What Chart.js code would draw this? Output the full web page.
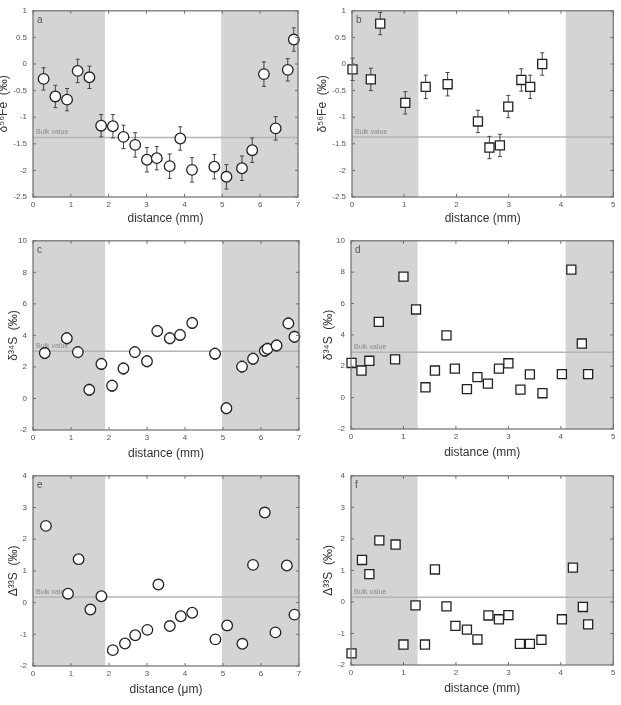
<!DOCTYPE html>
<html>
<head>
<meta charset="utf-8">
<script src="https://cdn.jsdelivr.net/npm/chart.js@4.4.1/dist/chart.umd.min.js"></script>
<style>
body { margin: 0; background: #fff; width: 621px; height: 705px; overflow: hidden; position: relative; }
canvas { position: absolute; }
</style>
</head>
<body>
<canvas id="chartA" width="314" height="226" style="left:-4px;top:0px"></canvas>
<canvas id="chartB" width="306" height="226" style="left:315px;top:0px"></canvas>
<canvas id="chartC" width="304" height="231" style="left:6px;top:230px"></canvas>
<canvas id="chartD" width="300" height="230" style="left:321px;top:230px"></canvas>
<canvas id="chartE" width="304" height="232" style="left:6px;top:465px"></canvas>
<canvas id="chartF" width="300" height="231" style="left:321px;top:465px"></canvas>
<script>
// panel a - d56Fe, circles
const distA = [0.28, 0.59, 0.90, 1.18, 1.49, 1.80, 2.11, 2.39, 2.70, 3.01, 3.27, 3.61, 3.89, 4.20, 4.79, 5.11, 5.52, 5.79, 6.10, 6.41, 6.73, 6.89]
const fe56A = [-0.28, -0.61, -0.67, -0.13, -0.25, -1.16, -1.17, -1.37, -1.52, -1.80, -1.77, -1.92, -1.40, -1.99, -1.93, -2.12, -1.96, -1.62, -0.19, -1.21, -0.11, 0.46]
const errA = [0.21, 0.21, 0.21, 0.22, 0.21, 0.21, 0.22, 0.22, 0.23, 0.23, 0.22, 0.23, 0.22, 0.23, 0.23, 0.23, 0.23, 0.23, 0.23, 0.22, 0.21, 0.22]

// panel b - d56Fe, squares
const distB = [0.01, 0.36, 0.54, 1.02, 1.41, 1.83, 2.41, 2.63, 2.83, 2.99, 3.24, 3.41, 3.64]
const fe56B = [-0.10, -0.29, 0.76, -0.73, -0.43, -0.38, -1.08, -1.57, -1.53, -0.80, -0.30, -0.43, 0.00]
const errB = [0.21, 0.21, 0.21, 0.21, 0.22, 0.22, 0.21, 0.21, 0.21, 0.21, 0.21, 0.22, 0.21]

// panel c - d34S, circles
const distC = [0.31, 0.89, 1.18, 1.48, 1.80, 2.08, 2.38, 2.68, 3.00, 3.27, 3.60, 3.87, 4.19, 4.79, 5.09, 5.50, 5.79, 6.10, 6.17, 6.41, 6.72, 6.88]
const s34C = [2.88, 3.82, 2.94, 0.55, 2.19, 0.81, 1.90, 2.94, 2.36, 4.28, 3.82, 4.03, 4.79, 2.84, -0.62, 2.02, 2.52, 3.03, 3.15, 3.36, 4.76, 3.91]
const errC = [0.35, 0.35, 0.35, 0.35, 0.35, 0.35, 0.35, 0.35, 0.35, 0.35, 0.35, 0.35, 0.35, 0.35, 0.35, 0.35, 0.35, 0.35, 0.35, 0.35, 0.35, 0.35]

// panel d - d34S, squares
const distD = [0.01, 0.20, 0.35, 0.53, 0.84, 1.00, 1.24, 1.42, 1.60, 1.82, 1.98, 2.21, 2.41, 2.61, 2.82, 3.00, 3.23, 3.41, 3.65, 4.02, 4.20, 4.40, 4.52]
const s34D = [2.21, 1.73, 2.35, 4.83, 2.44, 7.72, 5.62, 0.66, 1.73, 3.97, 1.85, 0.54, 1.31, 0.89, 1.85, 2.19, 0.51, 1.48, 0.28, 1.50, 8.16, 3.45, 1.50]

// panel e - D33S, circles
const distE = [0.34, 0.92, 1.20, 1.51, 1.80, 2.10, 2.42, 2.69, 3.01, 3.30, 3.60, 3.89, 4.19, 4.80, 5.11, 5.51, 5.79, 6.10, 6.38, 6.68, 6.88]
const s33E = [2.42, 0.28, 1.37, -0.22, 0.20, -1.50, -1.29, -1.03, -0.86, 0.57, -0.74, -0.43, -0.32, -1.16, -0.72, -1.30, 1.19, 2.84, -0.94, 1.17, -0.38]

// panel f - D33S, squares
const distF = [0.01, 0.21, 0.35, 0.54, 0.85, 1.00, 1.23, 1.41, 1.60, 1.82, 1.99, 2.21, 2.41, 2.62, 2.82, 3.00, 3.22, 3.41, 3.63, 4.02, 4.23, 4.42, 4.52]
const s33F = [-1.63, 1.33, 0.88, 1.95, 1.82, -1.35, -0.11, -1.35, 1.03, -0.14, -0.76, -0.88, -1.19, -0.43, -0.55, -0.42, -1.33, -1.33, -1.20, -0.55, 1.09, -0.16, -0.71]

// grey bands (rim zones) and bulk values
const shade7 = [[0, 1.9], [4.97, 7]]
const shade5 = [[0, 1.27], [4.09, 5]]
const bulkA = -1.38, bulkB = -1.37, bulkC = 3.0, bulkD = 2.9, bulkE = 0.18, bulkF = 0.15

const tickFont = { family: 'Liberation Sans, Arial, sans-serif', size: 8 }
const titleFont = { family: 'Liberation Sans, Arial, sans-serif', size: 12 }

function panelPlugin(cfg) {
    return {
        id: 'panel' + cfg.label,
        beforeDatasetsDraw(chart) {
            const ctx = chart.ctx
            const a = chart.chartArea
            const x = chart.scales.x
            const y = chart.scales.y
            ctx.save()
            ctx.fillStyle = '#d4d4d4'
            cfg.shade.forEach(s => {
                const x0 = x.getPixelForValue(s[0])
                const x1 = x.getPixelForValue(s[1])
                ctx.fillRect(x0, a.top, x1 - x0, a.bottom - a.top)
            })
            const yb = y.getPixelForValue(cfg.bulk)
            ctx.strokeStyle = '#b4b4b4'
            ctx.lineWidth = 1.5
            ctx.beginPath()
            ctx.moveTo(a.left, yb)
            ctx.lineTo(a.right, yb)
            ctx.stroke()
            ctx.fillStyle = '#8a8a8a'
            ctx.font = '7px Liberation Sans, Arial, sans-serif'
            ctx.textBaseline = 'alphabetic'
            ctx.fillText('Bulk value', a.left + 3, yb - 3)
            if (cfg.err) {
                ctx.strokeStyle = '#444'
                ctx.lineWidth = 1
                cfg.x.forEach((v, i) => {
                    const px = x.getPixelForValue(v)
                    const pt = y.getPixelForValue(cfg.y[i] + cfg.err[i])
                    const pb = y.getPixelForValue(cfg.y[i] - cfg.err[i])
                    ctx.beginPath()
                    ctx.moveTo(px, pt)
                    ctx.lineTo(px, pb)
                    ctx.moveTo(px - 2, pt)
                    ctx.lineTo(px + 2, pt)
                    ctx.moveTo(px - 2, pb)
                    ctx.lineTo(px + 2, pb)
                    ctx.stroke()
                })
            }
            ctx.restore()
        },
        afterDraw(chart) {
            const ctx = chart.ctx
            const a = chart.chartArea
            ctx.save()
            ctx.strokeStyle = '#6e6e6e'
            ctx.lineWidth = 1.2
            ctx.strokeRect(a.left, a.top, a.right - a.left, a.bottom - a.top)
            ctx.lineWidth = 1
            ctx.beginPath()
            chart.scales.x.ticks.forEach(t => {
                const px = chart.scales.x.getPixelForValue(t.value)
                ctx.moveTo(px, a.bottom)
                ctx.lineTo(px, a.bottom - 3)
                ctx.moveTo(px, a.top)
                ctx.lineTo(px, a.top + 3)
            })
            chart.scales.y.ticks.forEach(t => {
                const py = chart.scales.y.getPixelForValue(t.value)
                ctx.moveTo(a.left, py)
                ctx.lineTo(a.left + 3, py)
                ctx.moveTo(a.right, py)
                ctx.lineTo(a.right - 3, py)
            })
            ctx.stroke()
            ctx.fillStyle = '#555'
            ctx.font = '10px Liberation Sans, Arial, sans-serif'
            ctx.fillText(cfg.label, a.left + 4, a.top + 12)
            ctx.restore()
        }
    }
}

function makePanel(id, cfg) {
    const square = cfg.shape === 'rect'
    return new Chart(document.getElementById(id), {
        type: 'scatter',
        data: {
            datasets: [{
                data: cfg.x.map((v, i) => ({ x: v, y: cfg.y[i] })),
                pointStyle: cfg.shape,
                pointRadius: square ? 6.4 : 5.3,
                pointBackgroundColor: '#ffffff',
                pointBorderColor: '#222',
                pointBorderWidth: 1.3,
                clip: false
            }]
        },
        options: {
            responsive: false,
            animation: false,
            layout: { padding: { top: cfg.padTop, right: cfg.padRight, left: 0, bottom: 0 } },
            plugins: { legend: { display: false }, tooltip: { enabled: false } },
            scales: {
                x: {
                    type: 'linear',
                    min: 0,
                    max: cfg.xMax,
                    grid: { display: false, drawTicks: false },
                    border: { display: false },
                    ticks: { stepSize: 1, font: tickFont, color: '#555', padding: 3, maxRotation: 0, callback: v => String(v) },
                    title: { display: true, text: cfg.xTitle, font: titleFont, color: '#333', padding: 0 },
                    afterFit: s => { s.height = cfg.xHeight }
                },
                y: {
                    min: cfg.yMin,
                    max: cfg.yMax,
                    grid: { display: false, drawTicks: false },
                    border: { display: false },
                    ticks: { stepSize: cfg.yStep, font: tickFont, color: '#555', padding: 6, callback: v => String(v) },
                    title: { display: true, text: cfg.yTitle, font: titleFont, color: '#333', padding: 0 },
                    afterFit: s => { s.width = cfg.yWidth }
                }
            }
        },
        plugins: [panelPlugin(cfg)]
    })
}

makePanel('chartA', {
    x: distA, y: fe56A, err: errA, shape: 'circle', label: 'a',
    xMax: 7, yMin: -2.5, yMax: 1, yStep: 0.5, shade: shade7, bulk: bulkA,
    xTitle: 'distance (mm)', yTitle: 'δ⁵⁶Fe  (‰)',
    yWidth: 37, xHeight: 29, padTop: 6, padRight: 12
})
makePanel('chartB', {
    x: distB, y: fe56B, err: errB, shape: 'rect', label: 'b',
    xMax: 5, yMin: -2.5, yMax: 1, yStep: 0.5, shade: shade5, bulk: bulkB,
    xTitle: 'distance (mm)', yTitle: 'δ⁵⁶Fe  (‰)',
    yWidth: 37, xHeight: 29, padTop: 5, padRight: 3
})
makePanel('chartC', {
    x: distC, y: s34C, err: errC, shape: 'circle', label: 'c',
    xMax: 7, yMin: -2, yMax: 10, yStep: 2, shade: shade7, bulk: bulkC,
    xTitle: 'distance (mm)', yTitle: 'δ³⁴S  (‰)',
    yWidth: 27, xHeight: 31, padTop: 9, padRight: 11
})
makePanel('chartD', {
    x: distD, y: s34D, shape: 'rect', label: 'd',
    xMax: 5, yMin: -2, yMax: 10, yStep: 2, shade: shade5, bulk: bulkD,
    xTitle: 'distance (mm)', yTitle: 'δ³⁴S  (‰)',
    yWidth: 30, xHeight: 31, padTop: 8, padRight: 4
})
makePanel('chartE', {
    x: distE, y: s33E, shape: 'circle', label: 'e',
    xMax: 7, yMin: -2, yMax: 4, yStep: 1, shade: shade7, bulk: bulkE,
    xTitle: 'distance (μm)', yTitle: 'Δ³³S  (‰)',
    yWidth: 27, xHeight: 31, padTop: 10, padRight: 11
})
makePanel('chartF', {
    x: distF, y: s33F, shape: 'rect', label: 'f',
    xMax: 5, yMin: -2, yMax: 4, yStep: 1, shade: shade5, bulk: bulkF,
    xTitle: 'distance (mm)', yTitle: 'Δ³³S  (‰)',
    yWidth: 30, xHeight: 31, padTop: 9, padRight: 4
})
</script>
</body>
</html>
